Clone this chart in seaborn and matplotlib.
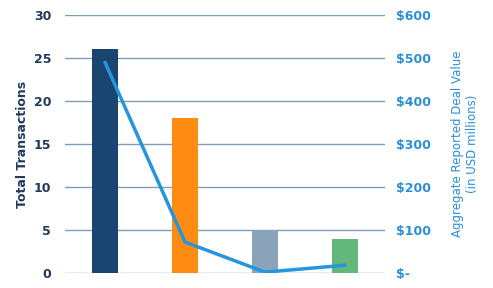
import matplotlib
matplotlib.use("Agg")
import matplotlib.pyplot as plt
import seaborn as sns
import pandas as pd
import numpy as np

categories = ["A", "B", "C", "D"]
transactions = [26, 18, 5, 4]
deal_value = [490, 72, 2, 18]
bar_colors = ["#1B4571", "#FF8C12", "#8AA3BA", "#63B77B"]

sns.set_theme(style="white")
plt.rcParams['font.family'] = ['DejaVu Sans']

df = pd.DataFrame({"cat": categories, "tx": transactions, "val": deal_value})

fig = plt.figure(figsize=(4.93, 2.88), dpi=100)
ax = fig.add_axes([65/493, 15/288, 320/493, 258/288])
sns.barplot(data=df, x="cat", y="tx", hue="cat", palette=bar_colors, width=0.32,
            legend=False, ax=ax, saturation=1, linewidth=0, edgecolor="none")
ax.set_ylim(0, 30)
ax.set_yticks(range(0, 31, 5))
ax.set_xlim(-0.5, 3.5)
ax.yaxis.grid(True, color="#7F9CB8", linewidth=1)
ax.set_axisbelow(True)
for s in ax.spines.values():
    s.set_visible(False)
ax.set_xticks([])
ax.set_xlabel("")
ax.set_ylabel("Total Transactions", color="#1F3A60", fontsize=9, fontweight="bold",
              labelpad=3)
ax.tick_params(axis="y", colors="#1F3A60", labelsize=9, length=0, pad=10)
for t in ax.get_yticklabels():
    t.set_fontweight("bold")

ax2 = ax.twinx()
sns.lineplot(x=np.arange(4), y=deal_value, ax=ax2, color="#2496DE", linewidth=2.5)
ax2.set_ylim(0, 600)
ax2.set_yticks(range(0, 601, 100))
ax2.set_yticklabels(["$-"] + [f"${v}" for v in range(100, 601, 100)])
for s in ax2.spines.values():
    s.set_visible(False)
ax2.tick_params(axis="y", colors="#2A8FD6", labelsize=9, length=0, pad=8)
for t in ax2.get_yticklabels():
    t.set_fontweight("bold")
ax2.set_ylabel("Aggregate Reported Deal Value\n(in USD millions)", color="#2A8FD6",
               fontsize=8.5, labelpad=14)
ax2.grid(False)

fig.savefig("out.png", dpi=100)
